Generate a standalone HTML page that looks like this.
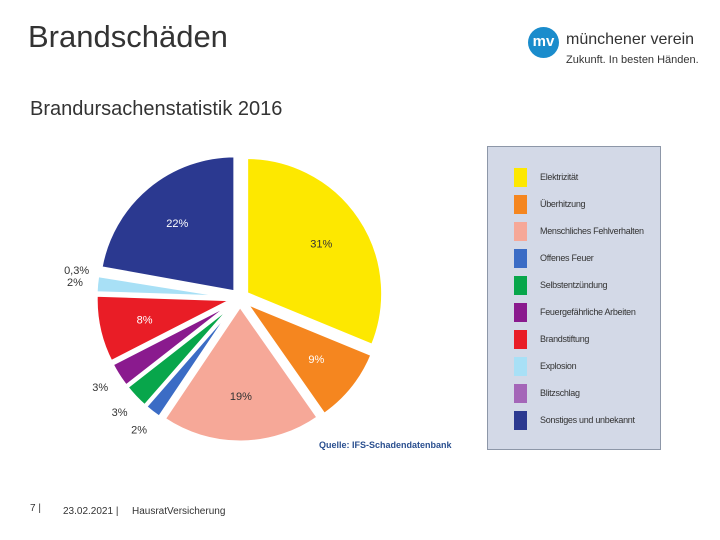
<!DOCTYPE html>
<html><head><meta charset="utf-8"><style>
body{margin:0;width:720px;height:540px;background:#fff;font-family:"Liberation Sans",sans-serif;position:relative;overflow:hidden}
.a{position:absolute;white-space:nowrap}
</style></head><body>
<div class="a" style="left:28px;top:19px;font-size:31px;color:#333">Brandschäden</div>
<div class="a" style="left:30px;top:98px;font-size:20px;color:#333">Brandursachenstatistik 2016</div>
<div class="a" style="left:528px;top:27px;width:170px;height:42px">
 <div style="position:absolute;left:0;top:0;width:31px;height:31px;border-radius:50%;background:#1a8ccc;color:#fff;font-size:15px;font-weight:bold;text-align:center;line-height:30px">mv</div>
 <div class="a" style="left:38px;top:4px;font-size:16px;color:#333">münchener verein</div>
 <div class="a" style="left:38px;top:27px;font-size:11px;color:#333">Zukunft. In besten Händen.</div>
</div>
<svg class="a" style="left:0;top:0" width="720" height="540" id="pie"></svg>
<div class="a" id="legend" style="left:487px;top:146px;width:174px;height:304px;background:#d3d9e7;border:1px solid #8d97a8;box-sizing:border-box"></div>
<div class="a" style="left:319px;top:440px;font-size:9px;color:#2a4f8f;font-weight:bold">Quelle: IFS-Schadendatenbank</div>
<div class="a" style="left:30px;top:503px;font-size:10px;color:#333">7 |</div>
<div class="a" style="left:63px;top:506px;font-size:10px;color:#333">23.02.2021 |</div>
<div class="a" style="left:132px;top:506px;font-size:10px;color:#333">HausratVersicherung</div>
<script>
const categories=["Elektrizität","Überhitzung","Menschliches Fehlverhalten","Offenes Feuer","Selbstentzündung","Feuergefährliche Arbeiten","Brandstiftung","Explosion","Blitzschlag","Sonstiges und unbekannt"];
const values=[31,9,19,2,3,3,8,2,0.3,22];
const labels=["31%","9%","19%","2%","3%","3%","8%","2%","0,3%","22%"];
const colors=["#fde800","#f5861f","#f6a898","#3b6cc5","#08a64b","#8a1a8e","#e91d26","#a8e0f6","#a466b8","#2b3990"];
const svg=document.getElementById('pie');const NS="http://www.w3.org/2000/svg";
const cx=240,cy=298,R=136,ex=8;
const total=values.reduce((a,b)=>a+b,0);
let a0=0;
function pt(r,a,ox,oy){return [ox+r*Math.sin(a),oy-r*Math.cos(a)];}
values.forEach((v,i)=>{
 const a1=a0+v/total*2*Math.PI,m=(a0+a1)/2;
 const ox=cx+ex*Math.sin(m),oy=cy-ex*Math.cos(m);
 const p0=pt(R,a0,ox,oy),p1=pt(R,a1,ox,oy);
 const path=document.createElementNS(NS,'path');
 path.setAttribute('d',`M${ox},${oy}L${p0[0]},${p0[1]}A${R},${R} 0 ${a1-a0>Math.PI?1:0} 1 ${p1[0]},${p1[1]}Z`);
 path.setAttribute('fill',colors[i]);path.setAttribute('stroke','#fff');path.setAttribute('stroke-width','3');
 
 
 svg.appendChild(path);
 const inside=v>=8;const lr=inside?R*0.66:R*1.16;
 const lp=pt(lr,m,ox,oy);
 const t=document.createElementNS(NS,'text');
 t.setAttribute('x',lp[0]);t.setAttribute('y',lp[1]+4);t.setAttribute('text-anchor','middle');
 t.setAttribute('font-size','11');t.setAttribute('font-family','Liberation Sans, sans-serif');
 t.setAttribute('fill',(i==6||i==9||i==1)?'#fff':'#333');t.textContent=labels[i];
 
 
 svg.appendChild(t);
 a0=a1;
});
const lg=document.getElementById('legend');
categories.forEach((c,i)=>{
 const row=document.createElement('div');
 
 
 row.style.cssText=`position:absolute;left:26px;top:${21+i*27}px;height:20px;width:145px`;
 row.innerHTML=`<div style="position:absolute;left:0;top:0;width:13px;height:19px;background:${colors[i]}"></div><div style="position:absolute;left:26px;top:4px;font-size:9px;color:#333;white-space:nowrap;letter-spacing:-0.3px">${c}</div>`;
 lg.appendChild(row);
});
</script>
</body></html>
